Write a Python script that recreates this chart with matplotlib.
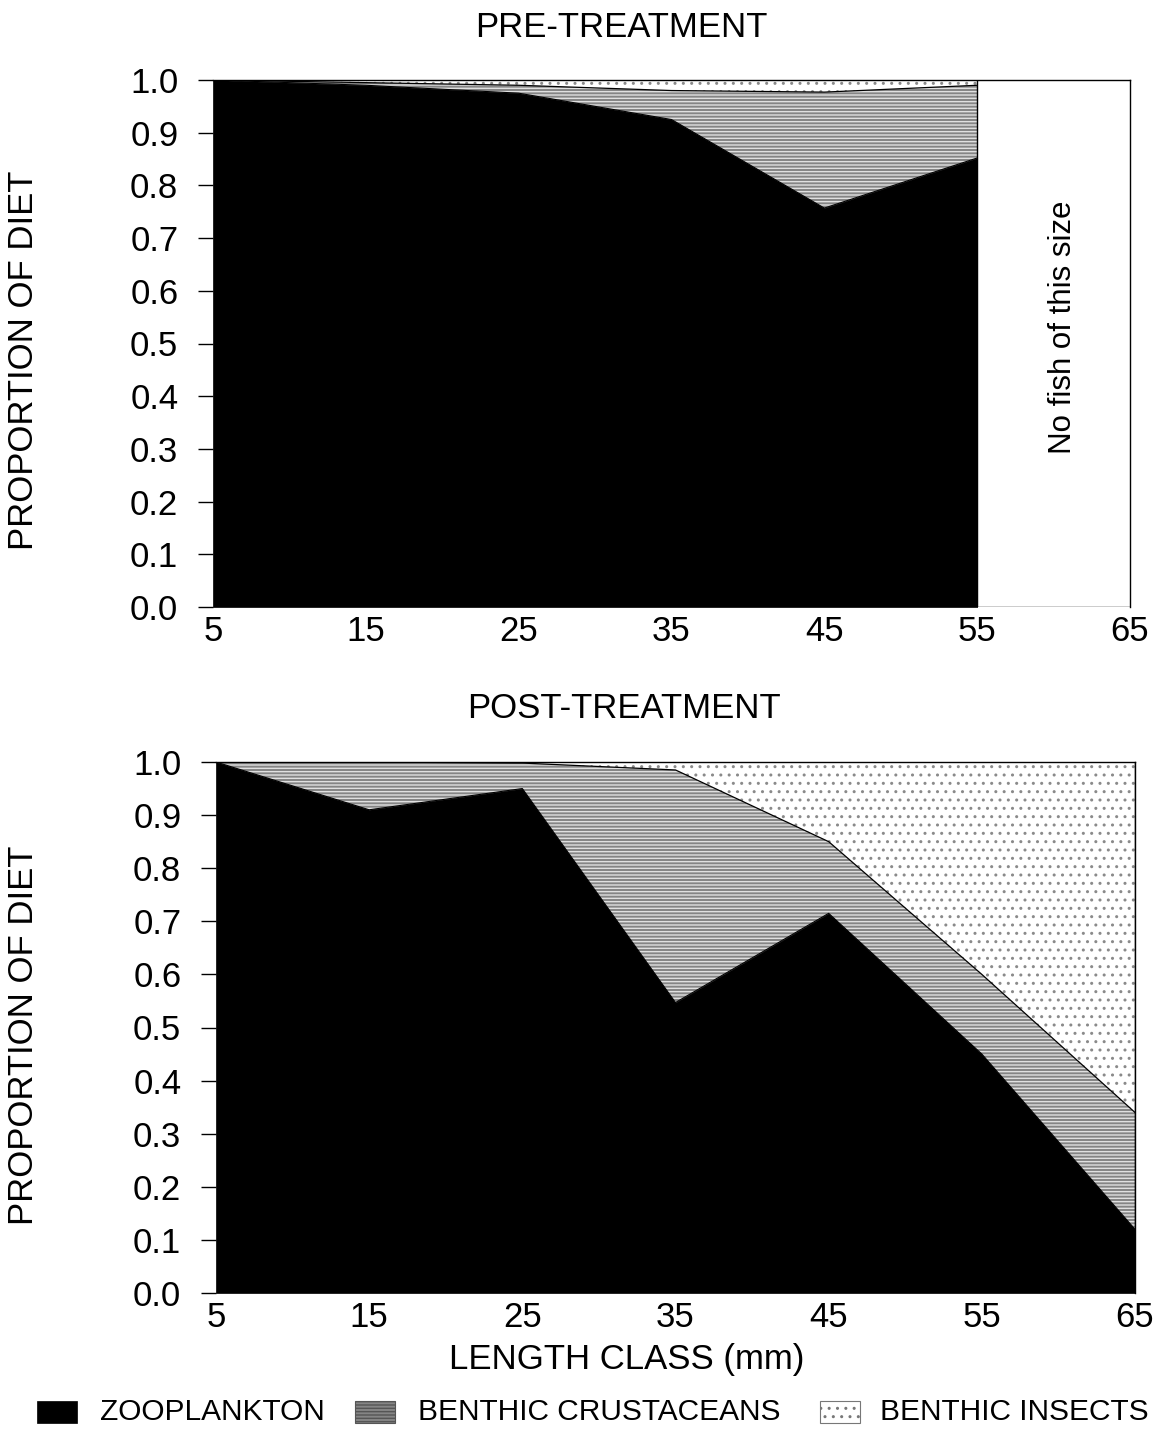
import numpy as np
import matplotlib.pyplot as plt
from matplotlib.patches import Rectangle

plt.rcParams['font.family'] = ['Liberation Sans', 'DejaVu Sans']
plt.rcParams['hatch.linewidth'] = 1.0

# Length classes (mm)
pre_x = [5, 15, 25, 35, 45, 55]
post_x = [5, 15, 25, 35, 45, 55, 65]

# Cumulative proportions
pre_zoo = [1.0, 0.99, 0.975, 0.925, 0.757, 0.852]
pre_crust = [1.0, 0.995, 0.99, 0.98, 0.977, 0.99]   # zoo + crustaceans
pre_total = [1.0, 1.0, 1.0, 1.0, 1.0, 1.0]

post_zoo = [1.0, 0.91, 0.95, 0.547, 0.715, 0.45, 0.12]
post_crust = [1.0, 1.0, 0.998, 0.985, 0.85, 0.6, 0.34]
post_total = [1.0, 1.0, 1.0, 1.0, 1.0, 1.0, 1.0]

x_ticks = [5, 15, 25, 35, 45, 55, 65]
y_ticks = np.arange(0, 1.01, 0.1)
legend_labels = ['ZOOPLANKTON', 'BENTHIC CRUSTACEANS', 'BENTHIC INSECTS']

ZOO = dict(facecolor='black', edgecolor='black', linewidth=0.5)
CRUST = dict(facecolor='#858585', edgecolor='#e0e0e0', hatch='-----', linewidth=0)
INSECT = dict(facecolor='white', edgecolor='#8a8a8a', hatch='..', linewidth=0)

W, H = 1155, 1430
fig = plt.figure(figsize=(W / 100, H / 100), dpi=100)
ax1 = fig.add_axes([213 / W, 1 - 607 / H, 917 / W, 527 / H])
ax2 = fig.add_axes([216 / W, 1 - 1293 / H, 919 / W, 531 / H])


def draw_panel(ax, x, zoo, crust, total, title, title_x, label_x, label_y):
    ax.fill_between(x, 0, zoo, **ZOO)
    ax.fill_between(x, zoo, crust, **CRUST)
    ax.fill_between(x, crust, total, **INSECT)
    ax.plot(x, crust, color='black', linewidth=0.9)
    ax.plot(x, zoo, color='black', linewidth=0.8)
    ax.set_xlim(5, 65)
    ax.set_ylim(0, 1.0)
    ax.set_xticks(x_ticks)
    ax.set_yticks(y_ticks)
    ax.set_yticklabels([f'{v:.1f}' for v in y_ticks])
    ax.tick_params(axis='y', direction='out', length=11, width=1, labelsize=25, pad=14)
    ax.tick_params(axis='x', length=0, labelsize=25, pad=6)
    ax.set_ylabel('PROPORTION OF DIET', fontsize=25)
    ax.yaxis.set_label_coords(label_x, label_y)
    ax.text(title_x, 1.1, title, transform=ax.transAxes, ha='center', va='center', fontsize=25)
    for s in ax.spines.values():
        s.set_linewidth(1)
    ax.spines['bottom'].set_visible(False)
    ax.spines['left'].set_visible(False)


draw_panel(ax1, pre_x, pre_zoo, pre_crust, pre_total, 'PRE-TREATMENT', 0.445, -0.189, 0.469)
draw_panel(ax2, post_x, post_zoo, post_crust, post_total, 'POST-TREATMENT', 0.444, -0.192, 0.486)

# empty region in pre-treatment panel
ax1.axvline(55, color='black', linewidth=1)
ax1.plot([55, 65], [0, 0], color='black', linewidth=1)
ax1.text(60.6, 0.53, 'No fish of this size', rotation=90, ha='center', va='center', fontsize=22.5)
ax2.axvline(65, color='black', linewidth=1)

ax2.text(0.447, -0.126, 'LENGTH CLASS (mm)', transform=ax2.transAxes,
         ha='center', va='center', fontsize=25)

# legend, placed by hand along the bottom
styles = [ZOO, dict(CRUST, linewidth=0.8, edgecolor='#555555'), dict(INSECT, linewidth=0.8, edgecolor='#777777')]
box_x = [37, 355, 820]
text_x = [100, 418, 880]
for bx, tx, st, lab in zip(box_x, text_x, styles, legend_labels):
    fig.patches.append(Rectangle((bx / W, 1 - 1423 / H), 40 / W, 22 / H,
                                 transform=fig.transFigure, **st))
    fig.text(tx / W, 1 - 1412 / H, lab, ha='left', va='center', fontsize=21.5)

fig.savefig('out.png', dpi=100)
